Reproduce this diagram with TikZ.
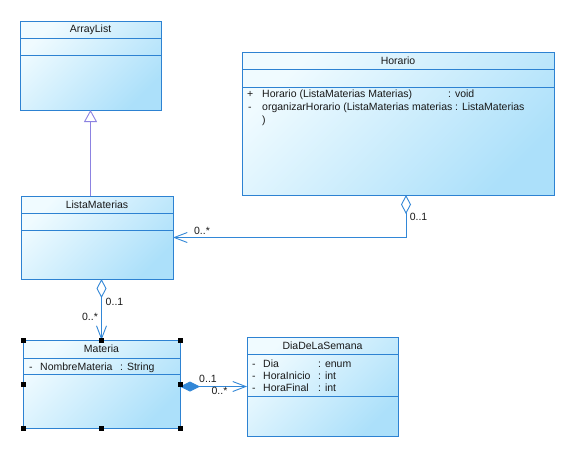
\documentclass[tikz,border=0pt]{standalone}
\usepackage{fontspec}
\setmainfont{Liberation Sans}
\usetikzlibrary{arrows.meta}
\definecolor{umlblue}{RGB}{45,130,210}
\definecolor{linkblue}{RGB}{50,135,215}
\definecolor{inhpurple}{RGB}{140,130,225}
\definecolor{filltop}{RGB}{240,251,255}
\definecolor{fillbot}{RGB}{172,224,250}
\definecolor{txt}{RGB}{25,25,25}
\begin{document}
\begin{tikzpicture}[x=1pt,y=-1pt,
  font=\fontsize{10.5}{12}\selectfont, text=txt,
  classbox/.style={draw=umlblue, line width=1pt, top color=filltop, bottom color=fillbot,
     shading angle=45, inner sep=0pt, outer sep=0pt, anchor=north west},
  divider/.style={draw=umlblue, line width=1pt},
  title/.style={inner sep=0pt, anchor=center},
  member/.style={inner sep=0pt, anchor=base west},
  mult/.style={inner sep=0pt, anchor=center},
  assoc/.style={draw=linkblue, line width=0.9pt},
  inh/.style={draw=inhpurple, line width=0.9pt},
  handle/.style={fill=black, minimum size=5pt, inner sep=0pt, outer sep=0pt},
]
\useasboundingbox[fill=white] (0,0) rectangle (580,451);

% ArrayList
\node[classbox, minimum width=141pt, minimum height=89pt] (arraylist) at (20,21) {};
\draw[divider] (arraylist.west |- 0,38) -- (arraylist.east |- 0,38);
\draw[divider] (arraylist.west |- 0,55) -- (arraylist.east |- 0,55);
\node[title] (arraylistT) at (90.5,29.5) {ArrayList};

% Horario
\node[classbox, minimum width=312pt, minimum height=143pt] (horario) at (242,52) {};
\draw[divider] (horario.west |- 0,69) -- (horario.east |- 0,69);
\draw[divider] (horario.west |- 0,87) -- (horario.east |- 0,87);
\node[title] (horarioT) at (398,60.5) {Horario};
\node[member] (hm1v) at (247,97) {+};
\node[member] (hm1) at (262,97) {Horario (ListaMaterias Materias)};
\node[member] (hm1t) at (448,97) {: void};
\node[member] (hm2v) at (248,110) {-};
\node[member] (hm2) at (262,110) {organizarHorario (ListaMaterias materias};
\node[member] (hm2t) at (455,110) {: ListaMaterias};
\node[member] (hm3) at (262,123) {)};

% ListaMaterias
\node[classbox, minimum width=152pt, minimum height=83pt] (listam) at (21,196) {};
\draw[divider] (listam.west |- 0,213) -- (listam.east |- 0,213);
\draw[divider] (listam.west |- 0,230) -- (listam.east |- 0,230);
\node[title] (listamT) at (97,204.5) {ListaMaterias};

% Materia
\node[classbox, minimum width=157pt, minimum height=88pt] (materia) at (23,340) {};
\draw[divider] (materia.west |- 0,358) -- (materia.east |- 0,358);
\draw[divider] (materia.west |- 0,374) -- (materia.east |- 0,374);
\node[title] (materiaT) at (101.5,349) {Materia};
\node[member] (ma1v) at (29,370) {-};
\node[member] (ma1) at (40,370) {NombreMateria};
\node[member] (ma1t) at (120,370) {: String};

% DiaDeLaSemana
\node[classbox, minimum width=151pt, minimum height=99pt] (dia) at (247,337) {};
\draw[divider] (dia.west |- 0,354) -- (dia.east |- 0,354);
\draw[divider] (dia.west |- 0,396) -- (dia.east |- 0,396);
\node[title] (diaT) at (322.5,345.5) {DiaDeLaSemana};
\node[member] (d1v) at (252,367) {-};
\node[member] (d1) at (263,367) {Dia};
\node[member] (d1t) at (318,367) {: enum};
\node[member] (d2v) at (252,379) {-};
\node[member] (d2) at (263,379) {HoraInicio};
\node[member] (d2t) at (318,379) {: int};
\node[member] (d3v) at (252,391.5) {-};
\node[member] (d3) at (263,391.5) {HoraFinal};
\node[member] (d3t) at (318,391.5) {: int};

% Inheritance ListaMaterias -> ArrayList
\draw[inh, -{Triangle[open, length=12pt, width=13pt]}] (listam.north -| arraylist.south) -- (arraylist.south);

% Aggregation Horario -> ListaMaterias
\coordinate (hagg) at ([xshift=8pt]horario.south);
\draw[assoc, {Diamond[open, length=19pt, width=10pt]}-{Straight Barb[length=13pt, width=10pt]}]
  (hagg) |- (listam.east);
\node[mult] (m1) at (418.5,217) {0..1};
\node[mult] (m2) at (202,231) {0..*};

% Aggregation ListaMaterias -> Materia
\draw[assoc, {Diamond[open, length=19pt, width=10pt]}-{Straight Barb[length=13pt, width=10pt]}]
  (listam.south -| materia.north) -- (materia.north);
\node[mult] (m3) at (114.5,302) {0..1};
\node[mult] (m4) at (90,317) {0..*};

% Composition Materia -> DiaDeLaSemana
\draw[assoc, {Diamond[length=20pt, width=10pt]}-{Straight Barb[length=13pt, width=10pt]}]
  (materia.east |- dia.west) -- (dia.west);
\node[mult] (m5) at (208,379) {0..1};
\node[mult] (m6) at (219.5,391) {0..*};

% Selection handles on Materia
\node[handle] (h1) at (materia.north west) {};
\node[handle] (h2) at (materia.north) {};
\node[handle] (h3) at (materia.north east) {};
\node[handle] (h4) at (materia.west) {};
\node[handle] (h5) at (materia.east) {};
\node[handle] (h6) at (materia.south west) {};
\node[handle] (h7) at (materia.south) {};
\node[handle] (h8) at (materia.south east) {};
\end{tikzpicture}
\end{document}
